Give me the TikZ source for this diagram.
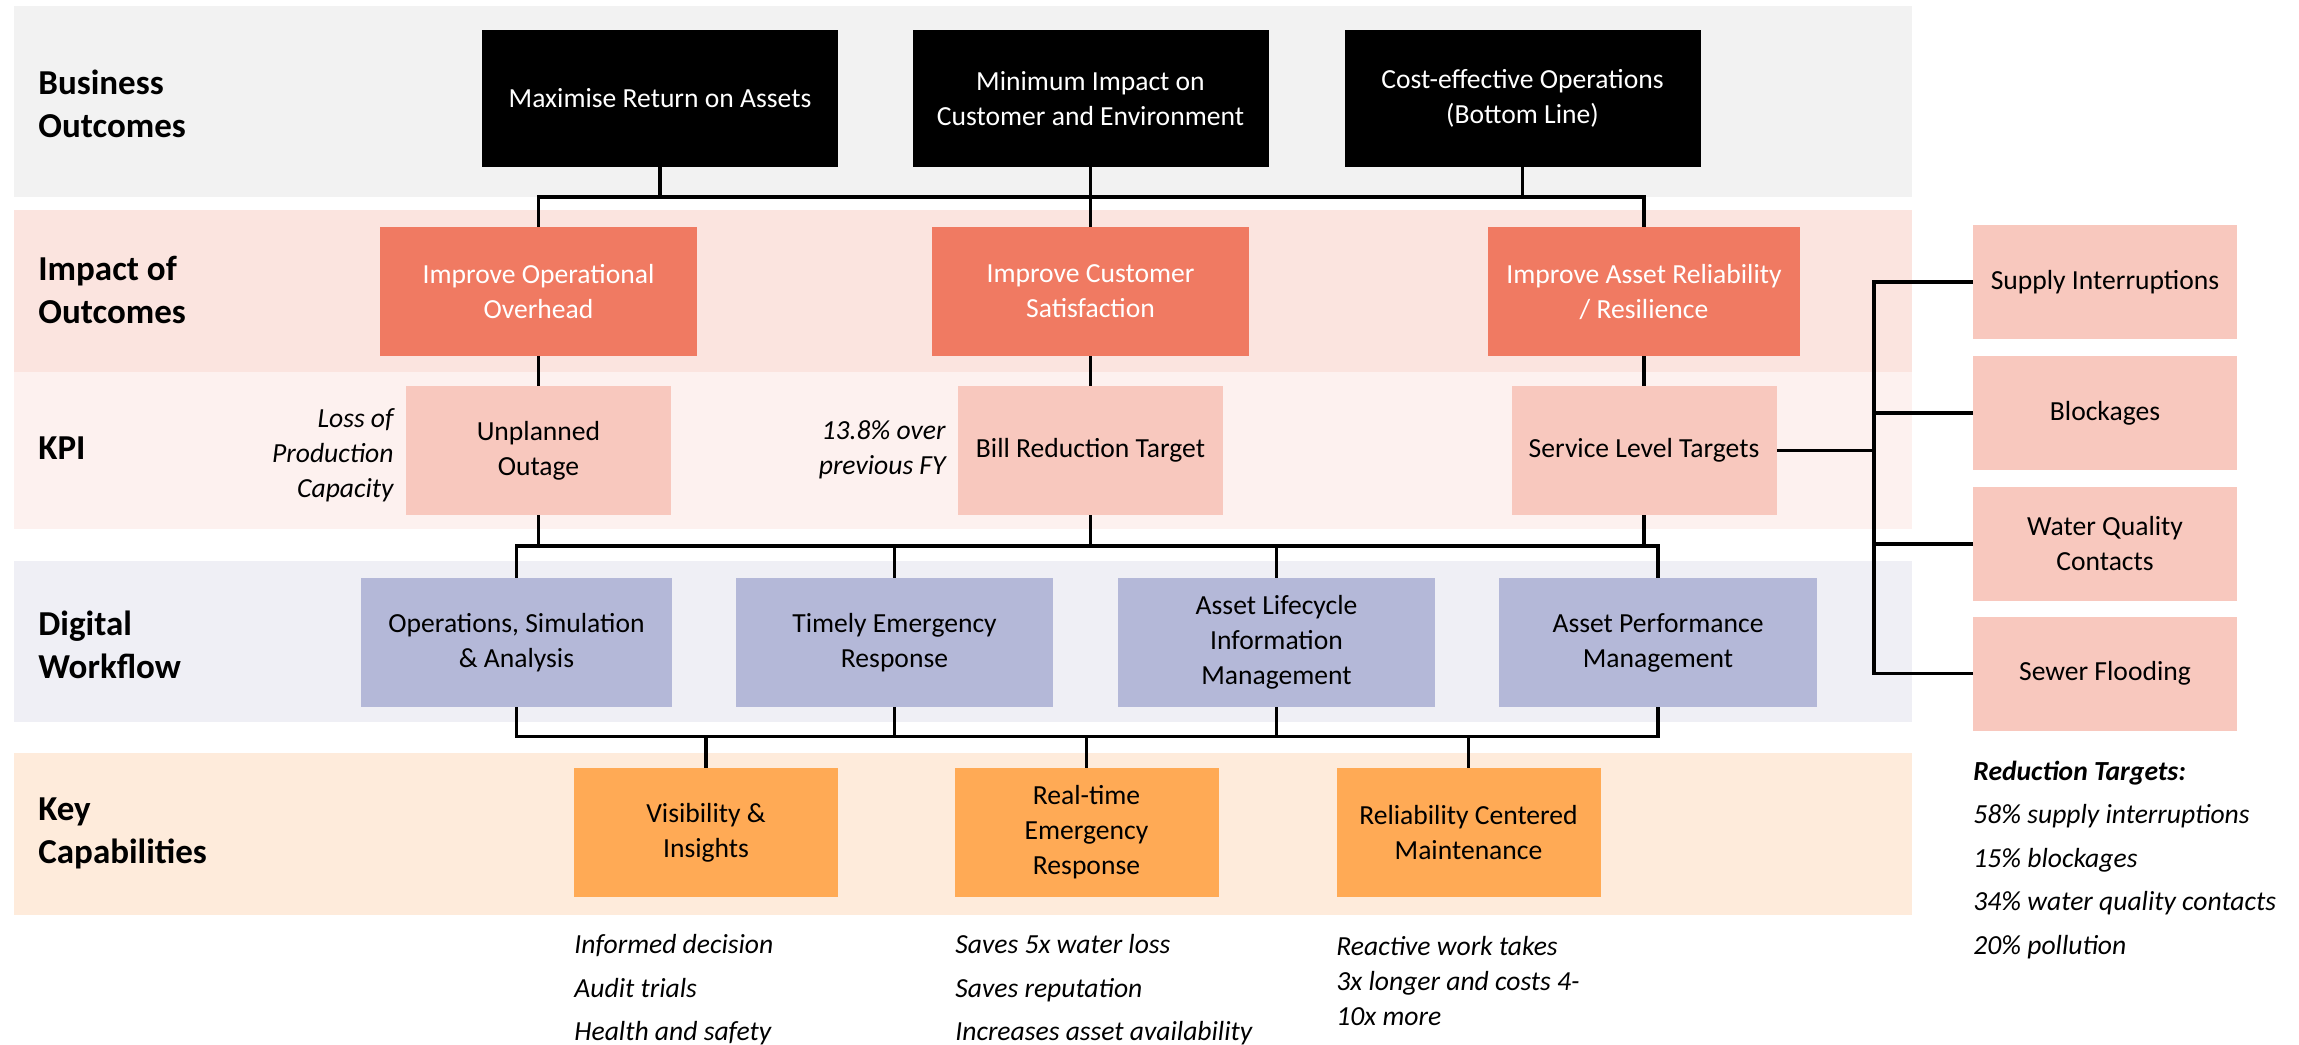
\documentclass[tikz,border=0pt]{standalone}
\usepackage{fontspec}
\setmainfont{Carlito}
\definecolor{bandA}{HTML}{F2F2F2}
\definecolor{bandB}{HTML}{FBE4DF}
\definecolor{bandC}{HTML}{FDF1EF}
\definecolor{bandD}{HTML}{EFEFF5}
\definecolor{bandE}{HTML}{FEEBDB}
\definecolor{coral}{HTML}{F07A62}
\definecolor{kpipink}{HTML}{F8C8BE}
\definecolor{lavender}{HTML}{B4B8D8}
\definecolor{orangebox}{HTML}{FFAA55}
\begin{document}
\begin{tikzpicture}[x=0.5pt,y=-0.5pt,
  box/.style={rectangle, inner sep=0pt, align=center,
    font=\fontsize{13.8}{17.5}\selectfont, minimum height=64.5pt},
  outcome/.style={box, fill=black, text=white, minimum width=178pt, minimum height=68.5pt},
  impact/.style={box, fill=coral, text=white, minimum width=158.5pt},
  kpi/.style={box, fill=kpipink, minimum width=132.5pt},
  flow/.style={box, fill=lavender, minimum width=158.5pt},
  capab/.style={box, fill=orangebox, minimum width=132pt},
  target/.style={box, fill=kpipink, minimum width=132pt, minimum height=57pt},
  rowlabel/.style={anchor=west, align=left, inner sep=0pt,
    font=\fontsize{17.5}{21.5}\selectfont\bfseries},
  note/.style={inner sep=0pt, font=\fontsize{13.8}{17.5}\selectfont\itshape},
  listnote/.style={inner sep=0pt, anchor=west, align=left,
    font=\fontsize{13.8}{21.75}\selectfont\itshape},
  link/.style={draw=black, line width=1.8pt, line join=miter}
]
\useasboundingbox (0,0) rectangle (2299,1045);

% horizontal bands
\fill[bandA] (14,6)   rectangle (1912,197);
\fill[bandB] (14,210) rectangle (1912,372);
\fill[bandC] (14,372) rectangle (1912,529);
\fill[bandD] (14,561) rectangle (1912,722);
\fill[bandE] (14,753) rectangle (1912,915);

% row labels
\node[rowlabel] (lblA) at (38,104) {Business\\Outcomes};
\node[rowlabel] (lblB) at (38,290) {Impact of\\Outcomes};
\node[rowlabel] (lblC) at (38,448) {KPI};
\node[rowlabel] (lblD) at (38,645) {Digital\\Workflow};
\node[rowlabel] (lblE) at (38,833) {Key\\Capabilities};

% business outcomes
\node[outcome] (m1) at (660,98.5)    {Maximise Return on Assets};
\node[outcome] (m2) at (1090.5,98.5) {Minimum Impact on\\Customer and Environment};
\node[outcome] (m3) at (1522.5,98.5) {Cost-effective Operations\\(Bottom Line)};

% impact of outcomes
\node[impact] (i1) at (538.5,291.5)  {Improve Operational\\Overhead};
\node[impact] (i2) at (1090.5,291.5) {Improve Customer\\Satisfaction};
\node[impact, minimum width=156pt] (i3) at (1644,291.5) {Improve Asset Reliability\\/ Resilience};

% KPIs
\node[kpi] (k1) at (538.5,450.5) {Unplanned\\Outage};
\node[kpi] (k2) at (1090.5,450.5) {Bill Reduction Target};
\node[kpi] (k3) at (1644,450.5) {Service Level Targets};
\node[note, anchor=east, align=right] (n1) at (394,455) {Loss of\\Production\\Capacity};
\node[note, anchor=east, align=right] (n2) at (946,450) {13.8\% over\\previous FY};

% digital workflow
\node[flow, minimum width=155.5pt] (d1) at (516.5,642.5) {Operations, Simulation\\\& Analysis};
\node[flow] (d2) at (894.5,642.5)  {Timely Emergency\\Response};
\node[flow] (d3) at (1276.5,642.5) {Asset Lifecycle\\Information\\Management};
\node[flow, minimum width=159pt] (d4) at (1658,642.5) {Asset Performance\\Management};

% key capabilities
\node[capab] (c1) at (706,832.5)    {Visibility \&\\Insights};
\node[capab] (c2) at (1086.5,832.5) {Real-time\\Emergency\\Response};
\node[capab] (c3) at (1468.5,832.5) {Reliability Centered\\Maintenance};

% benefits under the capabilities
\node[listnote] (e1) at (574,990)  {Informed decision\\Audit trials\\Health and safety};
\node[listnote] (e2) at (955,990)  {Saves 5x water loss\\Saves reputation\\Increases asset availability};
\node[note, anchor=west, align=left] (e3) at (1336,981) {Reactive work takes\\3x longer and costs 4-\\10x more};

% service level targets
\node[target] (r1) at (2105,282)   {Supply Interruptions};
\node[target] (r2) at (2105,413)   {Blockages};
\node[target] (r3) at (2105,544)   {Water Quality\\Contacts};
\node[target] (r4) at (2105,673.5) {Sewer Flooding};
\node[listnote] (e4) at (1973,860) {\textbf{Reduction Targets:}\\58\% supply interruptions\\15\% blockages\\34\% water quality contacts\\20\% pollution};

% bus levels
\coordinate (busA) at (0,197);
\coordinate (busB) at (0,546);
\coordinate (busC) at (0,736.5);
\coordinate (busR) at (1874,0);

% outcomes -> impact
\draw[link] (i1.north) -- (i1.north |- busA) -- (i3.north |- busA) -- (i3.north);
\draw[link] (m1.south) -- (m1.south |- busA);
\draw[link] (m2.south) -- (i2.north);
\draw[link] (m3.south) -- (m3.south |- busA);

% impact -> KPI
\draw[link] (i1.south) -- (k1.north);
\draw[link] (i2.south) -- (k2.north);
\draw[link] (i3.south) -- (k3.north);

% KPI -> digital workflow
\draw[link] (d1.north) -- (d1.north |- busB) -- (d4.north |- busB) -- (d4.north);
\draw[link] (k1.south) -- (k1.south |- busB);
\draw[link] (k2.south) -- (k2.south |- busB);
\draw[link] (k3.south) -- (k3.south |- busB);
\draw[link] (d2.north |- busB) -- (d2.north);
\draw[link] (d3.north |- busB) -- (d3.north);

% digital workflow -> capabilities
\draw[link] (d1.south) -- (d1.south |- busC) -- (d4.south |- busC) -- (d4.south);
\draw[link] (d2.south) -- (d2.south |- busC);
\draw[link] (d3.south) -- (d3.south |- busC);
\draw[link] (c1.north |- busC) -- (c1.north);
\draw[link] (c2.north |- busC) -- (c2.north);
\draw[link] (c3.north |- busC) -- (c3.north);

% service level targets breakdown
\draw[link] (r1.west) -- (r1.west -| busR) -- (r4.west -| busR) -- (r4.west);
\draw[link] (r2.west -| busR) -- (r2.west);
\draw[link] (r3.west -| busR) -- (r3.west);
\draw[link] (k3.east) -- (k3.east -| busR);
\end{tikzpicture}
\end{document}
